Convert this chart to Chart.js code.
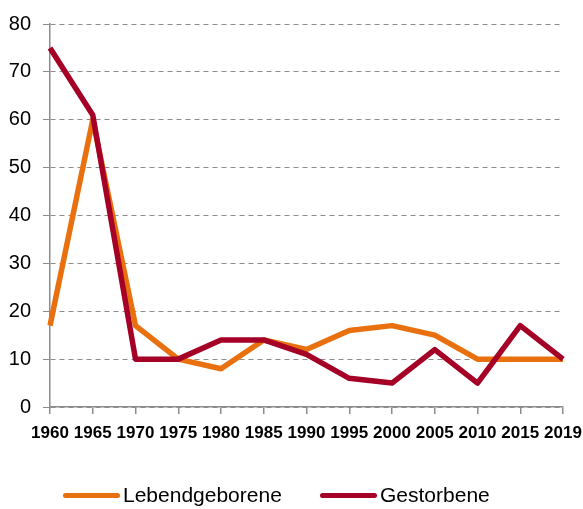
<!DOCTYPE html>
<html>
<head>
<meta charset="utf-8">
<script src="https://cdn.jsdelivr.net/npm/chart.js@4"></script>
<style>
  html, body { margin:0; padding:0; background:#fff; }
  #wrap { width:583px; height:509px; position:relative; }
  .lg { position:absolute; top:482px; display:flex; align-items:center; height:26px;
        font-family:'Liberation Sans', Arial, sans-serif; font-size:21px; color:#000; white-space:nowrap; }
  .lg i { display:inline-block; width:57px; height:5px; border-radius:3px; margin-right:3px; }
</style>
</head>
<body>
<div id="wrap">
  <canvas id="c"></canvas>
  <div class="lg" style="left:63px"><i id="lg0"></i><span id="lt0"></span></div>
  <div class="lg" style="left:320px"><i id="lg1"></i><span id="lt1"></span></div>
</div>
<script>
const years = ['1960','1965','1970','1975','1980','1985','1990','1995','2000','2005','2010','2015','2019'];
const lebendgeborene = [17, 60, 17, 10, 8, 14, 12, 16, 17, 15, 10, 10, 10];
const gestorbene = [75, 61, 10, 10, 14, 14, 11, 6, 5, 12, 5, 17, 10];
const yTicks = [0, 10, 20, 30, 40, 50, 60, 70, 80];

const ORANGE = '#E8700E';
const RED = '#A50026';
const AXIS = '#8c8c8c';
const FONT = 'Liberation Sans, Arial, sans-serif';

const chart = new Chart(document.getElementById('c').getContext('2d'), {
  type: 'line',
  data: {
    labels: years,
    datasets: [
      { label:'Lebendgeborene', data: lebendgeborene, borderColor: ORANGE, backgroundColor: ORANGE,
        borderWidth: 5.5, pointRadius: 0, tension: 0, order: 1, borderJoinStyle: 'round' },
      { label:'Gestorbene', data: gestorbene, borderColor: RED, backgroundColor: RED,
        borderWidth: 5.5, pointRadius: 0, tension: 0, order: 0, borderJoinStyle: 'round' }
    ]
  },
  options: {
    responsive: true,
    maintainAspectRatio: false,
    animation: false,
    layout: { padding: { top: 12, right: 0, left: 0, bottom: 52 } },
    plugins: {
      tooltip: { enabled: false },
      legend: { display: false }
    },
    scales: {
      x: {
        offset: false,
        grid: { display: true, drawOnChartArea: false, drawTicks: true, tickLength: 7, color: AXIS, lineWidth: 1.5 },
        border: { display: true, color: AXIS, width: 1.5 },
        ticks: {
          color: '#000', padding: 9, maxRotation: 0, autoSkip: false,
          font: { family: FONT, size: 17, weight: 'bold' }
        },
        afterFit: s => { s.height = 50; s.paddingRight = 20; s.paddingLeft = 0; }
      },
      y: {
        min: 0, max: 80,
        afterBuildTicks: s => { s.ticks = yTicks.map(v => ({ value: v })); },
        grid: { color: AXIS, lineWidth: 1, tickLength: 7, tickColor: AXIS },
        border: { display: true, color: AXIS, width: 1.5, dash: [5, 4] },
        ticks: {
          color: '#000', padding: 12,
          font: { family: FONT, size: 20 }
        },
        afterFit: s => { s.width = 50; }
      }
    }
  }
});

// HTML legend built from the dataset definitions
chart.data.datasets.forEach((ds, i) => {
  document.getElementById('lg' + i).style.background = ds.borderColor;
  document.getElementById('lt' + i).textContent = ds.label;
});
</script>
</body>
</html>
